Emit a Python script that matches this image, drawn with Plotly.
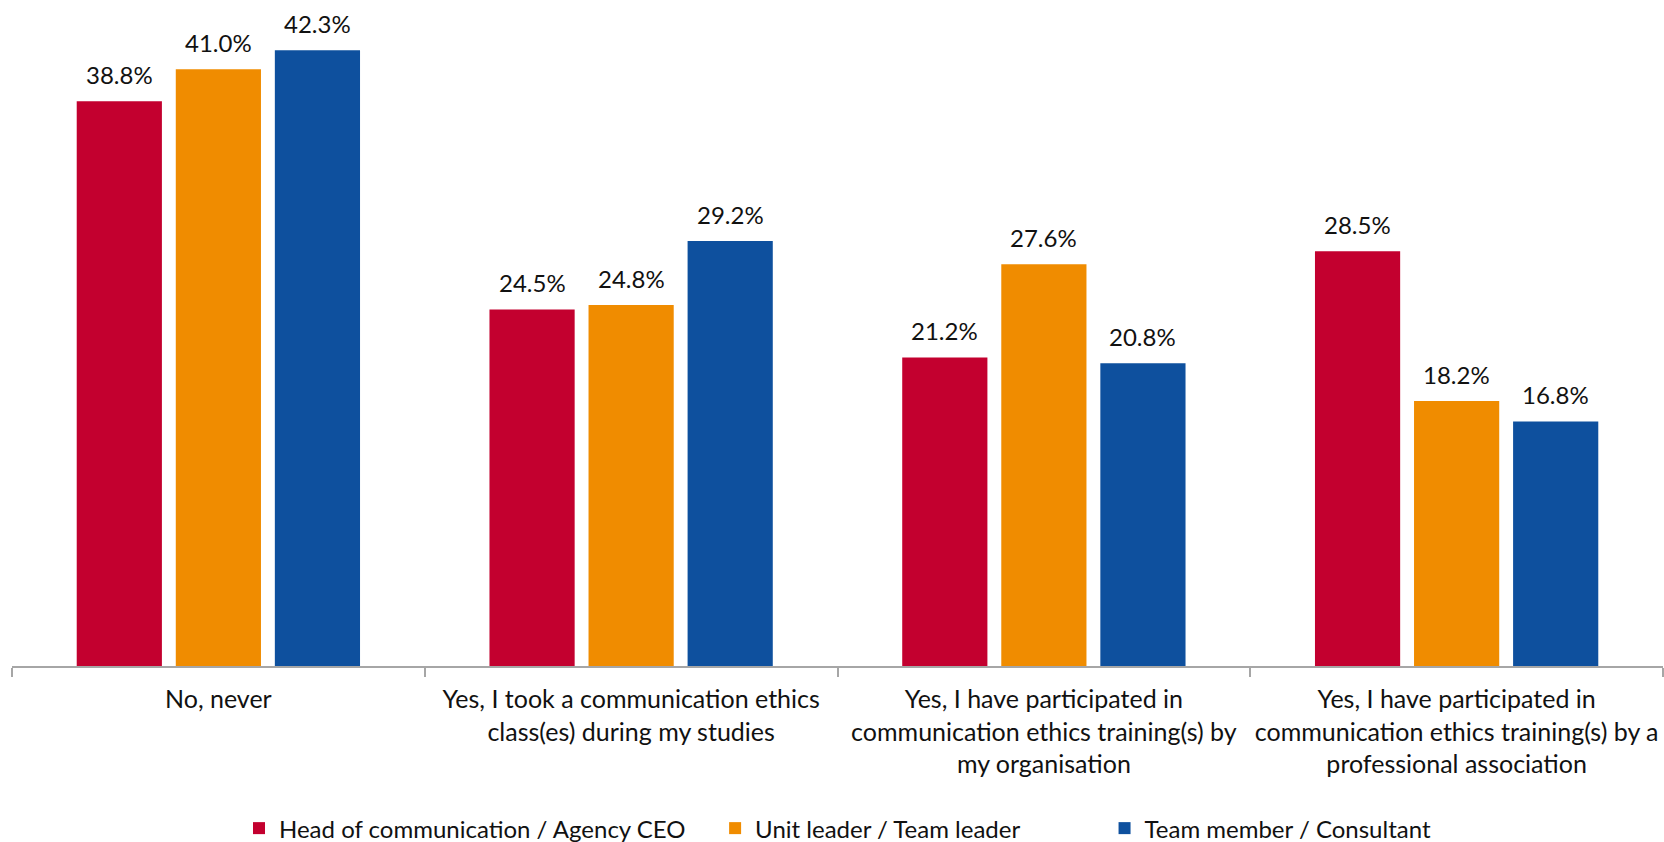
import plotly.graph_objects as go

# Survey answers (x-axis categories)
categories = [
    "No, never",
    "Yes, I took a communication ethics<br>class(es) during my studies",
    "Yes, I have participated in<br>communication ethics training(s) by<br>my organisation",
    "Yes, I have participated in<br>communication ethics training(s) by a<br>professional association",
]

# Respondent groups and their shares (%)
series_names = [
    "Head of communication / Agency CEO",
    "Unit leader / Team leader",
    "Team member / Consultant",
]
head_values = [38.8, 24.5, 21.2, 28.5]
unit_values = [41.0, 24.8, 27.6, 18.2]
team_values = [42.3, 29.2, 20.8, 16.8]
series_values = [head_values, unit_values, team_values]

colors = ["#C3002F", "#F08C00", "#0E509E"]

FONT = "Lato"
TEXT_COLOR = "#111111"
BARGAP = 0.28
BARGROUPGAP = 0.14

# extra room after each legend entry before the next one starts
legend_pads = ["\u00a0" * 4, "\u00a0" * 13, ""]

fig = go.Figure()
for name, vals, col, pad in zip(series_names, series_values, colors, legend_pads):
    fig.add_trace(go.Bar(
        x=categories,
        y=vals,
        name=name + pad,
        marker=dict(color=col, line=dict(width=0)),
        hoverinfo="skip",
    ))

# Value labels above each bar, placed at the bar's slot within its group
n = len(series_values)
slot = (1 - BARGAP) / n
annotations = []
for k, vals in enumerate(series_values):
    offset = (k - (n - 1) / 2) * slot
    for i, v in enumerate(vals):
        annotations.append(dict(
            x=i + offset, y=v, xref="x", yref="y",
            text=f"{v:.1f}%",
            showarrow=False,
            yanchor="bottom",
            yshift=10,
            font=dict(family=FONT, size=24, color=TEXT_COLOR),
        ))

fig.update_layout(
    width=1664,
    height=842,
    margin=dict(l=12, r=1, t=11, b=176),
    paper_bgcolor="white",
    plot_bgcolor="white",
    barmode="group",
    bargap=BARGAP,
    bargroupgap=BARGROUPGAP,
    font=dict(family=FONT, size=25, color=TEXT_COLOR),
    showlegend=True,
    legend=dict(
        orientation="h",
        x=0.5, xanchor="center",
        yref="container", y=0.016, yanchor="middle",
        font=dict(family=FONT, size=24, color=TEXT_COLOR),
        itemwidth=30,
        traceorder="normal",
    ),
    annotations=annotations,
)

fig.update_xaxes(
    type="category",
    automargin=False,
    tickangle=0,
    showline=True,
    linecolor="#A6A6A6",
    linewidth=2,
    ticks="outside",
    tickson="boundaries",
    ticklen=9,
    tickwidth=2,
    tickcolor="#A6A6A6",
    ticklabelstandoff=10,
    tickfont=dict(family=FONT, size=25, color=TEXT_COLOR),
    showgrid=False,
    zeroline=False,
)
fig.update_yaxes(
    range=[0, 45],
    visible=False,
    automargin=False,
    showgrid=False,
    zeroline=False,
)

fig.write_html("out.html")
